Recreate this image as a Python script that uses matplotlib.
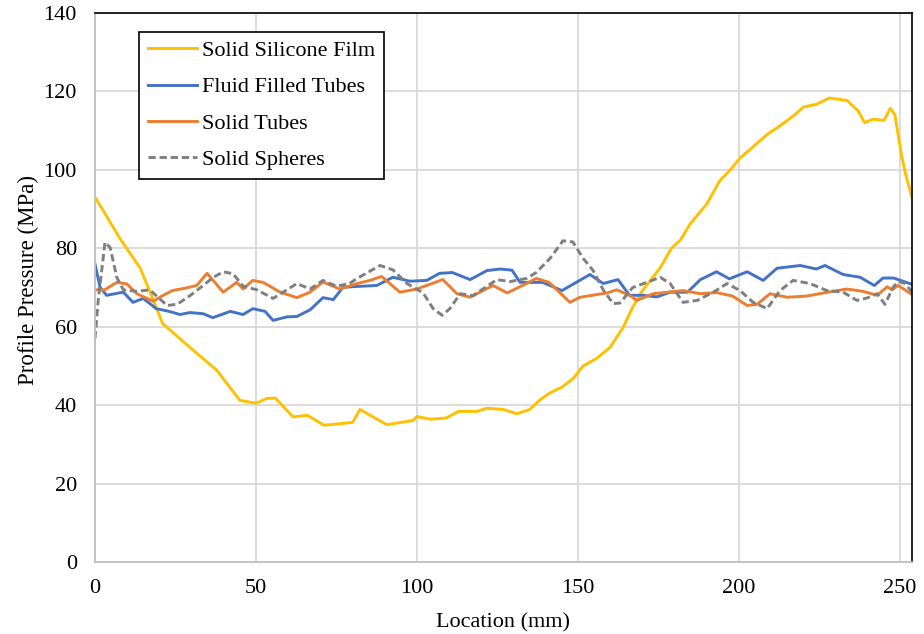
import numpy as np
import matplotlib
matplotlib.use("Agg")
import matplotlib.pyplot as plt

plt.rcParams['font.family'] = ['Liberation Serif', 'DejaVu Serif']

# Solid Silicone Film
film_x = [0, 3, 7.8, 14, 17, 21, 29.5, 37.8, 45, 50, 53.4, 56, 61.5, 66, 71, 73, 80,
          82.3, 86.3, 90.7, 98.8, 100, 104, 109, 113, 118.6, 121.7, 126.7, 131, 135,
          138, 141, 145, 148.5, 151.6, 155.8, 160, 164, 167, 170, 175.5, 179, 181.7,
          184.8, 190, 194, 197, 200.3, 204, 208.7, 212.7, 216.8, 220, 224, 228, 233.5,
          237, 239, 241.6, 245, 247, 248.4, 250.6, 252, 253.7]
film_y = [93, 89, 82.4, 75, 69, 60.8, 54.7, 48.9, 41.2, 40.5, 41.7, 41.8, 37, 37.4, 34.9,
          35, 35.6, 38.9, 37, 35, 36.1, 37.1, 36.4, 36.7, 38.4, 38.4, 39.2, 38.9, 37.8,
          38.9, 41.2, 43, 44.6, 46.8, 50, 51.9, 54.8, 59.8, 65, 69.2, 75, 80, 82, 86.2,
          91.3, 97.2, 99.7, 103, 105.6, 109, 111.2, 113.7, 116, 116.7, 118.3, 117.7, 115,
          112, 112.9, 112.6, 115.7, 114, 103, 98, 93]

# Fluid Filled Tubes
fluid_x = [0, 1.6, 3.6, 8.8, 11.8, 15, 19, 23, 26.4, 29.5, 33.6, 36.6, 42, 46, 49, 52.8,
           55.3, 59.6, 62.7, 66.8, 70.8, 74, 77, 80, 87.5, 92.5, 97.8, 103, 107, 111,
           116.5, 121.7, 125.8, 129.5, 132, 139, 145, 153.7, 157.8, 162.4, 166, 170,
           174.5, 178.6, 184, 188, 193, 197, 202.5, 207.5, 211.8, 219, 224, 226.7, 232.3,
           237.6, 242, 244.7, 248, 253.7]
fluid_y = [76, 70, 68, 68.8, 66.2, 67.2, 64.6, 63.9, 63.1, 63.6, 63.3, 62.3, 63.9, 63.1,
           64.6, 63.9, 61.6, 62.5, 62.6, 64.3, 67.4, 66.9, 70, 70.2, 70.5, 72.6, 71.6,
           71.8, 73.6, 73.8, 72, 74.3, 74.7, 74.4, 71.3, 71.3, 69.2, 73.3, 71, 72, 68, 68,
           67.6, 68.8, 68.8, 72, 74, 72.2, 74, 71.8, 74.9, 75.6, 74.7, 75.6, 73.3, 72.6,
           70.5, 72.4, 72.4, 70.8]

# Solid Tubes
tubes_x = [0, 3, 6.8, 9.9, 13, 18, 21, 24, 28.5, 31.6, 34.8, 39.8, 44, 46, 49, 52.2,
           57.5, 62.7, 66.8, 70.8, 76, 81.4, 85.4, 89, 94.7, 100, 108, 112.4, 116.5,
           120.5, 123.6, 128, 134, 137, 141, 147.5, 150.6, 159, 162, 166, 168.3, 173.3,
           182.6, 188, 193, 198, 202.5, 205.6, 209.6, 214.9, 221, 229, 233.5, 238.5,
           242.9, 246, 247.5, 249.4, 253.7]
tubes_y = [69.4, 69.4, 71.3, 70.9, 68.4, 66.5, 67.9, 69.2, 69.9, 70.5, 73.6, 68.8, 71.3,
           69.6, 71.8, 71.3, 68.8, 67.4, 68.8, 71.4, 69.6, 71, 71.8, 72.8, 68.8, 69.6, 72,
           68.4, 67.5, 69.2, 70.5, 68.6, 71, 72.3, 71.3, 66.2, 67.5, 68.6, 69.4, 68, 66.7,
           68.4, 69.2, 68.4, 68.7, 67.8, 65.4, 65.7, 68.4, 67.5, 67.8, 69, 69.6, 69, 68,
           70.2, 69.4, 70.5, 68.2]

# Solid Spheres
spheres_x = [0, 1, 3.1, 4.7, 6.8, 8.8, 13, 17, 19, 22.4, 25.5, 29.5, 33.6, 36.6, 39.8,
             42.9, 46, 50.3, 55.3, 59.6, 62.7, 66.8, 70.8, 75, 79, 81.4, 88.5, 92.5, 96.9,
             101.9, 105, 107.8, 110.2, 113.4, 117.4, 121.7, 124.8, 128.9, 134, 137, 141.3,
             145.3, 148.4, 151.6, 154.7, 157.8, 160.9, 163, 167, 171.4, 175.5, 178.6,
             182.6, 187, 192, 196.3, 200.3, 204.4, 208.7, 212.7, 216.8, 222, 227.3, 232.3,
             236.6, 239.7, 242.9, 245.3, 247.8, 249.4, 251.6, 253.7]
spheres_y = [57, 66.7, 81.5, 80.2, 72.5, 69.4, 69, 69.4, 67.9, 65.4, 65.7, 67.9, 70.5,
             72.5, 74, 73.5, 70.3, 69.4, 67.2, 69.4, 71, 69.6, 71.8, 70.3, 71, 72.3, 75.6,
             74.5, 71, 68.6, 64.6, 62.9, 64.6, 68.4, 67.9, 70.3, 72, 71.5, 72.3, 73.8, 77.4,
             81.9, 81.6, 77.4, 74.3, 69.4, 65.9, 66, 70, 71.3, 72.6, 71, 66.2, 66.7, 68.8,
             71, 69.2, 66.2, 64.6, 69.2, 71.8, 71, 69.2, 68.8, 66.7, 67.3, 68.4, 65.7, 70,
             71.5, 71, 68.8]

fig = plt.figure(figsize=(9.24, 6.34), dpi=100)
ax = fig.add_axes([0.1028, 0.1136, 0.8842, 0.866])

lw = 2.1
ax.plot(film_x, film_y, color='#FFC000', lw=lw, label='Solid Silicone Film')
ax.plot(fluid_x, fluid_y, color='#4472C4', lw=lw, label='Fluid Filled Tubes')
ax.plot(tubes_x, tubes_y, color='#ED7D31', lw=lw, label='Solid Tubes')
ax.plot(spheres_x, spheres_y, color='#7F7F7F', lw=lw, ls=(0, (2.5, 1.3)),
        label='Solid Spheres')

ax.set_xlim(0, 253.7)
ax.set_ylim(0, 140)
ax.set_xticks(np.arange(0, 251, 50))
ax.set_yticks(np.arange(0, 141, 20))
ax.grid(True, color='#D9D9D9', lw=1.3)
ax.set_axisbelow(True)
ax.tick_params(length=0, labelsize=16)
ax.tick_params(axis='x', pad=12)
ax.tick_params(axis='y', pad=13)

for side in ['top', 'right']:
    ax.spines[side].set_color('black')
    ax.spines[side].set_linewidth(1.2)
for side in ['left', 'bottom']:
    ax.spines[side].set_color('#BFBFBF')
    ax.spines[side].set_linewidth(1.3)

ax.set_xlabel('Location (mm)', fontsize=16, labelpad=11)
ax.set_ylabel('Profile Pressure (MPa)', fontsize=16.5, labelpad=3.5, y=0.513)

leg = ax.legend(loc='upper left', bbox_to_anchor=(0.054, 0.966), fontsize=16,
                frameon=True, fancybox=False, edgecolor='black', framealpha=1,
                handlelength=2.2, borderpad=0.4, labelspacing=0.71,
                handletextpad=0.25, borderaxespad=0)
leg.get_frame().set_linewidth(1.2)

fig.savefig('out.png', dpi=100)
